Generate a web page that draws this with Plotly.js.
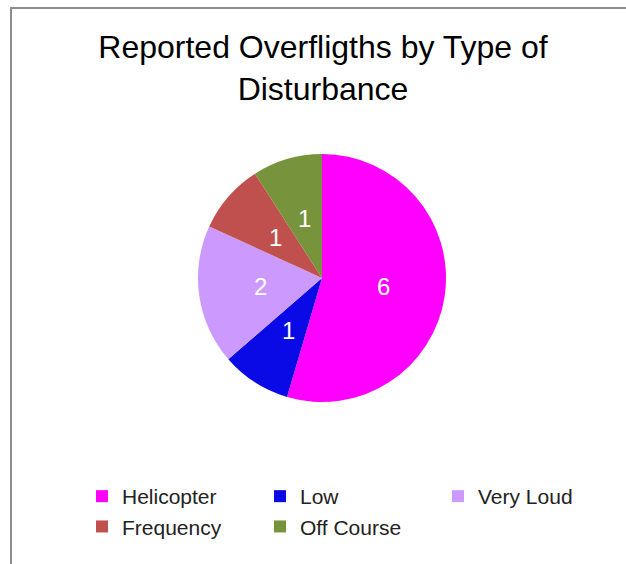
<!DOCTYPE html>
<html>
<head>
<meta charset="utf-8">
<script src="https://cdn.plot.ly/plotly-3.0.1.min.js"></script>
<style>
  html, body { margin: 0; padding: 0; background: #fff; overflow: hidden; }
  #frame { position: absolute; left: 10px; top: 7px; width: 700px; height: 700px;
           border-top: 2px solid #8c8c8c; border-left: 2px solid #8c8c8c; }
  #chart { position: absolute; left: 0; top: 0; width: 626px; height: 564px; }
</style>
</head>
<body>
<div id="frame"></div>
<div id="chart"></div>
<script>
const categories = ['Helicopter', 'Low', 'Very Loud', 'Frequency', 'Off Course'];
const counts = [6, 1, 2, 1, 1];
const sliceColors = ['#FF00FF', '#0A0AE6', '#CC99FF', '#C0504D', '#77933C'];

const W = 626, H = 564;
const cx = 322, cy = 278, R = 124;
const FONT = 'Liberation Sans, Arial, sans-serif';

const domX = [(cx - R) / W, (cx + R) / W];
const domY = [1 - (cy + R) / H, 1 - (cy - R) / H];

const trace = {
  type: 'pie',
  labels: categories,
  values: counts,
  sort: false,
  direction: 'clockwise',
  rotation: 0,
  marker: { colors: sliceColors, line: { width: 0 } },
  textinfo: 'none',
  hoverinfo: 'label+value',
  domain: { x: domX, y: domY }
};

// value labels at half radius of each slice (derived from the data)
const total = counts.reduce((a, b) => a + b, 0);
const annotations = [];
let cum = 0;
counts.forEach((v, i) => {
  const mid = (cum + v / 2) / total * 2 * Math.PI; // clockwise from top
  cum += v;
  const px = cx + 0.5 * R * Math.sin(mid);
  const py = cy - 0.5 * R * Math.cos(mid);
  annotations.push({
    xref: 'paper', yref: 'paper',
    x: px / W, y: 1 - py / H,
    text: String(v), showarrow: false,
    xanchor: 'center', yanchor: 'middle',
    font: { color: '#ffffff', size: 24, family: FONT }
  });
});

const layout = {
  width: W, height: H,
  margin: { l: 0, r: 0, t: 0, b: 0, autoexpand: false },
  paper_bgcolor: 'rgba(0,0,0,0)',
  plot_bgcolor: 'rgba(0,0,0,0)',
  font: { family: FONT, color: '#000' },
  title: {
    text: 'Reported Overfligths by Type of<br>Disturbance',
    font: { size: 32, color: '#000', family: FONT },
    x: 323 / W, xanchor: 'center', xref: 'container',
    y: 1 - 58 / H, yanchor: 'top', yref: 'container'
  },
  annotations: annotations,
  showlegend: true,
  legend: {
    orientation: 'h',
    x: 82 / W, xanchor: 'left',
    y: 1 - 476 / H, yanchor: 'top',
    entrywidth: 133, entrywidthmode: 'pixels',
    font: { size: 21, color: '#222', family: FONT },
    traceorder: 'normal'
  }
};

Plotly.newPlot('chart', [trace], layout, { displayModeBar: false, staticPlot: true });
</script>
</body>
</html>
